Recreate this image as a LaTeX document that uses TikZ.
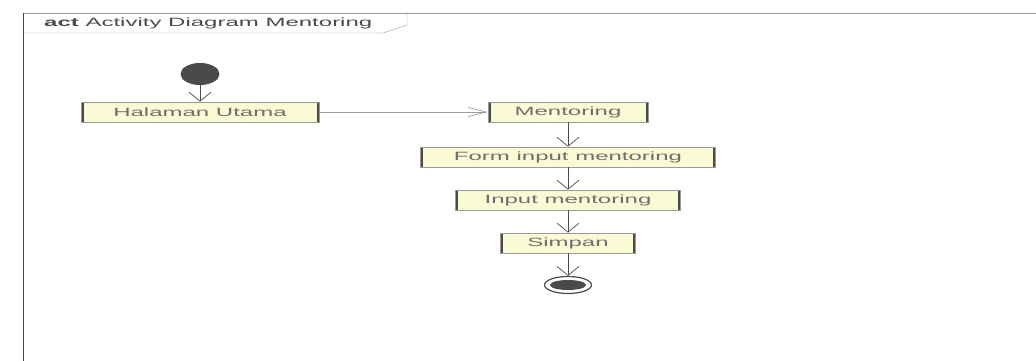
\documentclass[tikz,border=0pt]{standalone}
\usepackage{fontspec}
\setmainfont{Liberation Sans}
\newfontfamily\umlfont[FakeStretch=2]{Liberation Sans}
\usetikzlibrary{shapes.geometric,arrows.meta}
\definecolor{actfill}{HTML}{FAFAD4}
\definecolor{actline}{HTML}{4A4A4A}
\definecolor{actframe}{HTML}{9A9A9A}

\tikzset{
	actbox/.style={draw=actframe, line width=0.7pt, fill=actfill, minimum height=20pt, inner sep=0pt,
		font=\umlfont\fontsize{12}{14}\selectfont, text=actline!80,
		path picture={\draw[line width=5pt, actline] (path picture bounding box.north west) -- (path picture bounding box.south west)
			(path picture bounding box.north east) -- (path picture bounding box.south east);}},
	flowv/.style={-{Straight Barb[length=9pt,width=22pt]}, actline, line width=0.7pt},
	flowh/.style={-{Straight Barb[length=18pt,width=9pt]}, actframe, line width=0.7pt},
}

\begin{document}
\begin{tikzpicture}[x=1pt,y=-1pt]
		\useasboundingbox (0,0) rectangle (1036,361);
		% frame
		\draw[actframe] (1036,13) -- (23,13);
		\draw[actline, line width=0.8pt] (23,13) -- (23,361);
		\draw[actframe] (23,33) -- (383,33) -- (407,25) -- (407,13);
		\node[anchor=west, inner sep=0pt, font=\umlfont\fontsize{12}{14}\selectfont, text=actline] (title) at (44,23) {\textbf{act} Activity Diagram Mentoring};
		% activities
		\node[ellipse, fill=actline, minimum width=39pt, minimum height=22pt, inner sep=0pt] (start) at (200,74) {};
		\node[actbox, minimum width=238pt] (halaman) at (200,112) {Halaman Utama};
		\node[actbox, minimum width=160pt] (mentoring) at (568,112) {Mentoring};
		\node[actbox, minimum width=295pt] (forminput) at (568,157) {Form input mentoring};
		\node[actbox, minimum width=225pt] (inputmentoring) at (568,200) {Input mentoring};
		\node[actbox, minimum width=135pt] (simpan) at (568,243) {Simpan};
		\node[ellipse, draw=actline, line width=1.2pt, minimum width=47pt, minimum height=17pt, inner sep=0pt] (finish) at (568,285) {};
		\node[ellipse, fill=actline, minimum width=36pt, minimum height=10pt, inner sep=0pt] (finishdot) at (finish) {};
		% flows
		\draw[flowv] (start) -- (halaman);
		\draw[flowh] (halaman) -- (mentoring);
		\draw[flowv] (mentoring) -- (forminput);
		\draw[flowv] (forminput) -- (inputmentoring);
		\draw[flowv] (inputmentoring) -- (simpan);
		\draw[flowv] (simpan) -- (finish);
	\end{tikzpicture}
\end{document}
